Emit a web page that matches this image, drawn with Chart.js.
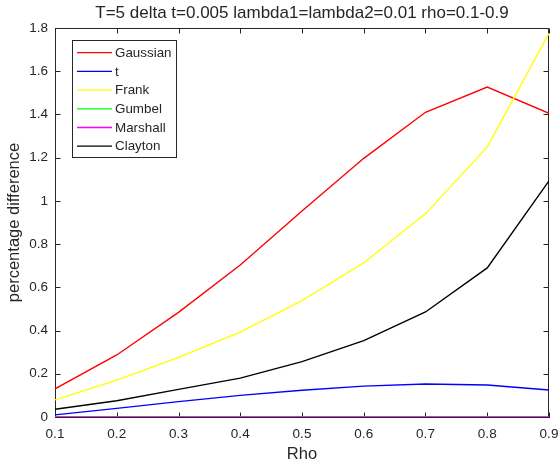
<!DOCTYPE html>
<html>
<head>
<meta charset="utf-8">
<title>percentage difference vs Rho</title>
<script src="https://cdn.jsdelivr.net/npm/chart.js@4.4.1/dist/chart.umd.min.js"></script>
<style>
  html, body { margin: 0; padding: 0; background: #fff; }
  #wrap { width: 560px; height: 464px; }
</style>
</head>
<body>
<div id="wrap"><canvas id="chart"></canvas></div>
<script>
// values
const rho = [0.1, 0.2, 0.3, 0.4, 0.5, 0.6, 0.7, 0.8, 0.9];
const gaussian = [0.13, 0.287, 0.484, 0.703, 0.953, 1.197, 1.41, 1.527, 1.405];
const tCopula = [0.01, 0.04, 0.071, 0.1, 0.124, 0.143, 0.153, 0.148, 0.125];
const frank = [0.079, 0.171, 0.276, 0.393, 0.538, 0.714, 0.94, 1.25, 1.775];
const gumbel = [0, 0, 0, 0, 0, 0, 0, 0, 0];
const marshall = [0, 0, 0, 0, 0, 0, 0, 0, 0];
const clayton = [0.036, 0.075, 0.128, 0.18, 0.256, 0.353, 0.486, 0.69, 1.093];

const seriesNames = ['Gaussian', 't', 'Frank', 'Gumbel', 'Marshall', 'Clayton'];
const seriesValues = [gaussian, tCopula, frank, gumbel, marshall, clayton];
const seriesColors = ['#ff0000', '#0000ff', '#ffff00', '#00ff00', '#ff00ff', '#000000'];

const xTicks = [0.1, 0.2, 0.3, 0.4, 0.5, 0.6, 0.7, 0.8, 0.9];
const yTicks = [0, 0.2, 0.4, 0.6, 0.8, 1, 1.2, 1.4, 1.6, 1.8];

const axisColor = '#262626';
const fontFamily = '"Liberation Sans", Arial, Helvetica, sans-serif';

Chart.defaults.font.family = fontFamily;
Chart.defaults.color = axisColor;

const fmt = v => String(Math.round(v * 10) / 10);

// box round the axes with inward ticks, like the original figure
const axesBox = {
    id: 'axesBox',
    beforeDatasetsDraw(chart) {
        const { ctx, chartArea: a, scales: { x, y } } = chart;
        const len = 5;
        const L = a.left + 0.5, R = a.right - 0.5, T = a.top + 0.5, B = a.bottom + 0.5;
        ctx.save();
        ctx.strokeStyle = axisColor;
        ctx.lineWidth = 1;
        ctx.beginPath();
        ctx.moveTo(L, T); ctx.lineTo(R, T); ctx.lineTo(R, B);
        for (const v of xTicks) {
            const px = Math.round(x.getPixelForValue(v)) + 0.5;
            ctx.moveTo(px, B); ctx.lineTo(px, B - len);
            ctx.moveTo(px, T); ctx.lineTo(px, T + len);
        }
        for (const v of yTicks) {
            const py = Math.round(y.getPixelForValue(v)) + 0.5;
            ctx.moveTo(L, py); ctx.lineTo(L + len, py);
            ctx.moveTo(R, py); ctx.lineTo(R - len, py);
        }
        ctx.stroke();
        ctx.restore();
    },
};

// legend drawn inside the axes, top left
const boxLegend = {
    id: 'boxLegend',
    afterDatasetsDraw(chart) {
        const { ctx, chartArea: a } = chart;
        const left = Math.round(a.left + 18) - 0.5;
        const top = Math.round(a.top + 12) + 0.5;
        const w = 104, h = 117, rowH = 18.7;
        ctx.save();
        ctx.fillStyle = '#fff';
        ctx.fillRect(left, top, w, h);
        ctx.strokeStyle = axisColor;
        ctx.lineWidth = 1;
        ctx.strokeRect(left, top, w, h);
        ctx.font = '13.4px ' + fontFamily;
        ctx.textBaseline = 'middle';
        ctx.textAlign = 'left';
        chart.data.datasets.forEach((ds, i) => {
            const cy = top + 12.2 + i * rowH;
            ctx.strokeStyle = ds.borderColor;
            ctx.lineWidth = 1.3;
            ctx.beginPath();
            ctx.moveTo(left + 4.5, cy);
            ctx.lineTo(left + 39.5, cy);
            ctx.stroke();
            ctx.fillStyle = axisColor;
            ctx.fillText(ds.label, left + 42.5, cy + 0.5);
        });
        ctx.restore();
    },
};

new Chart(document.getElementById('chart'), {
    type: 'line',
    data: {
        datasets: seriesNames.map((name, i) => ({
            label: name,
            data: rho.map((r, j) => ({ x: r, y: seriesValues[i][j] })),
            borderColor: seriesColors[i],
            backgroundColor: seriesColors[i],
            borderWidth: 1.4,
            pointRadius: 0,
            tension: 0,
            fill: false,
            order: seriesNames.length - i,
        })),
    },
    plugins: [axesBox, boxLegend],
    options: {
        responsive: true,
        maintainAspectRatio: false,
        animation: false,
        events: [],
        layout: { padding: { left: 0, right: 11, top: 0, bottom: 0 } },
        plugins: {
            legend: { display: false },
            tooltip: { enabled: false },
            title: {
                display: true,
                text: 'T=5 delta t=0.005 lambda1=lambda2=0.01 rho=0.1-0.9',
                color: axisColor,
                fullSize: false,
                font: { size: 17, weight: 'normal' },
                padding: { top: 3.4, bottom: 4.2 },
            },
        },
        scales: {
            x: {
                type: 'linear',
                min: 0.1,
                max: 0.9,
                afterBuildTicks: s => { s.ticks = xTicks.map(v => ({ value: v })); },
                afterFit: s => { s.height = 47; s.paddingLeft = 0; s.paddingRight = 0; },
                grid: { display: false, drawTicks: false },
                border: { display: true, color: axisColor, width: 1 },
                ticks: {
                    autoSkip: false,
                    maxRotation: 0,
                    padding: 9,
                    color: axisColor,
                    font: { size: 13.5 },
                    callback: fmt,
                },
                title: {
                    display: true,
                    text: 'Rho',
                    color: axisColor,
                    font: { size: 16.5 },
                    padding: { top: 0, bottom: 0 },
                },
            },
            y: {
                type: 'linear',
                min: 0,
                max: 1.8,
                afterBuildTicks: s => { s.ticks = yTicks.map(v => ({ value: v })); },
                afterFit: s => { s.width = 55; },
                grid: { display: false, drawTicks: false },
                border: { display: true, color: axisColor, width: 1 },
                ticks: {
                    padding: 7,
                    color: axisColor,
                    font: { size: 13.5 },
                    callback: fmt,
                },
                title: {
                    display: true,
                    text: 'percentage difference',
                    color: axisColor,
                    font: { size: 16.5 },
                    padding: { top: 5, bottom: 0 },
                },
            },
        },
    },
});
</script>
</body>
</html>
